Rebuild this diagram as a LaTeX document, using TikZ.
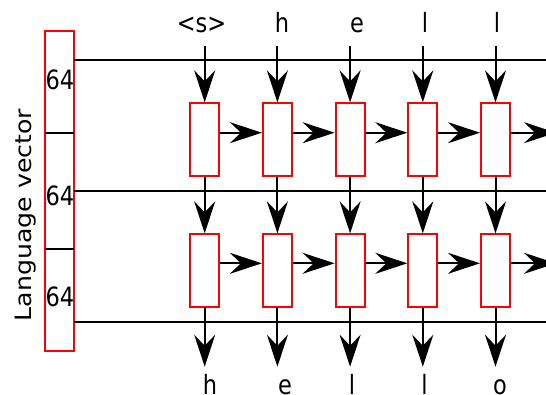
\documentclass[tikz,border=0pt]{standalone}
\usepackage{fontspec}
\setmainfont{DejaVu Sans}
\usetikzlibrary{arrows.meta}
\newcommand{\vs}[1]{\scalebox{1}[1.18]{#1}}
\tikzset{
  cell/.style={draw=red, line width=2pt, minimum width=29pt, minimum height=72.7pt, inner sep=0pt},
  lvbox/.style={draw=red, line width=2pt, minimum width=29pt, minimum height=319.7pt, inner sep=0pt},
  arr/.style={line width=2pt, -{Stealth[length=32pt, width=21pt, inset=11pt]}},
  ln/.style={line width=2pt},
  lab/.style={inner sep=0pt, anchor=base, font=\fontsize{22.5}{26}\selectfont},
}
\begin{document}
\begin{tikzpicture}[x=1pt, y=-1pt]
\clip (0,0) rectangle (546,394);
\fill[white] (0,0) rectangle (546,394);
% language vector box
\node[lvbox] (lv) at (59.5,190.8) {};
\node[lab, rotate=90] (lvt) at (31,215) {\scalebox{1.12}[1]{Language vector}};
\node[lab] (n1) at (60,89) {\vs{64}};
\node[lab] (n2) at (60,205) {\vs{64}};
\node[lab] (n3) at (60,306.7) {\vs{64}};
% long horizontal lines
\coordinate (h1a) at (74,60.3);   \coordinate (h1b) at (546,60.3);
\coordinate (h2a) at (74,191);    \coordinate (h2b) at (546,191);
\coordinate (h3a) at (74,321.7);  \coordinate (h3b) at (546,321.7);
\draw[ln] (h1a) -- (h1b);
\draw[ln] (h2a) -- (h2b);
\draw[ln] (h3a) -- (h3b);
% ticks in the box
\coordinate (k1a) at (45,132.7); \coordinate (k1b) at (74,132.7);
\coordinate (k2a) at (45,249);   \coordinate (k2b) at (74,249);
\draw[ln] (k1a) -- (k1b);
\draw[ln] (k2a) -- (k2b);
% cells
\foreach \i/\x in {1/204.7,2/277.4,3/350.1,4/422.8,5/495.5}{
  \node[cell] (t\i) at (\x,139.7) {};
  \node[cell] (b\i) at (\x,270.7) {};
  \coordinate (in\i) at (\x,45.7);
  \coordinate (out\i) at (\x,366.7);
  \draw[arr] (in\i) -- (t\i.north);
  \draw[arr] (t\i.south) -- (b\i.north);
  \draw[arr] (b\i.south) -- (out\i);
}
\foreach \i/\j in {1/2,2/3,3/4,4/5}{
  \draw[arr] ([yshift=7pt]t\i.east) -- ([yshift=7pt]t\j.west);
  \draw[arr] ([yshift=7.4pt]b\i.east) -- ([yshift=7.4pt]b\j.west);
}
\coordinate (tend) at (556,132.7);
\coordinate (bend) at (556,263.3);
\draw[arr] ([yshift=7pt]t5.east) -- (tend);
\draw[arr] ([yshift=7.4pt]b5.east) -- (bend);
% top labels
\node[lab] (i1) at (201.5,32) {\vs{<s>}};
\node[lab] (i2) at (282,32) {\vs{h}};
\node[lab] (i3) at (357,32) {\vs{e}};
\node[lab] (i4) at (425,32) {\vs{l}};
\node[lab] (i5) at (497,32) {\vs{l}};
% bottom labels
\node[lab] (o1) at (210,394) {\vs{h}};
\node[lab] (o2) at (285,394) {\vs{e}};
\node[lab] (o3) at (352,394) {\vs{l}};
\node[lab] (o4) at (424.5,394) {\vs{l}};
\node[lab] (o5) at (500,394) {\vs{o}};
\end{tikzpicture}
\end{document}
